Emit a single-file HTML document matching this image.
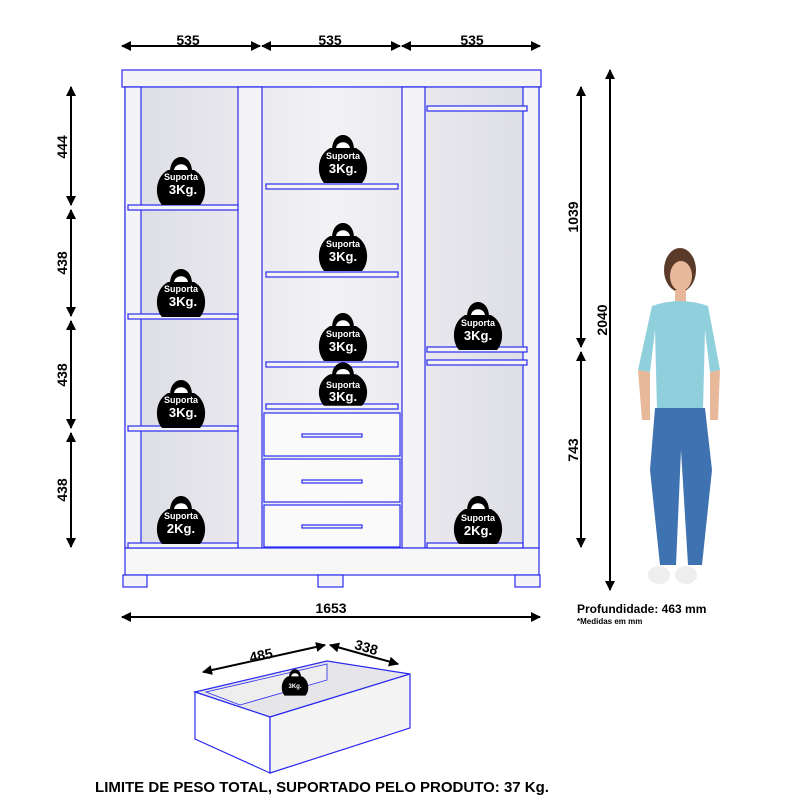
<!DOCTYPE html>
<html><head><meta charset="utf-8"><style>body{margin:0;background:#fff}svg{display:block}text{font-family:"Liberation Sans",sans-serif;font-weight:bold}</style></head><body>
<svg width="800" height="800" viewBox="0 0 800 800" xmlns="http://www.w3.org/2000/svg">
<defs>
<marker id="a" viewBox="0 0 10 10" refX="9" refY="5" markerWidth="5" markerHeight="5" orient="auto-start-reverse"><path d="M0,0L10,5L0,10z" fill="#000"/></marker>
<linearGradient id="g" x1="0" x2="1"><stop offset="0" stop-color="#dcdce4"/><stop offset="0.5" stop-color="#f2f2f5"/><stop offset="1" stop-color="#dcdce4"/></linearGradient>
<g id="w"><path d="M-11,-10 C-11,-30 11,-30 11,-10z" fill="#000"/><path d="M-7,-11 C-7,-20 7,-20 7,-11z" fill="#fff"/><path d="M-13,-12 L13,-12 C26,-5 27,14 19,23 L-19,23 C-27,14 -26,-5 -13,-12z" fill="#000"/></g>
</defs>
<g stroke="#000" stroke-width="2" marker-start="url(#a)" marker-end="url(#a)">
<line x1="122" y1="46" x2="260" y2="46"/><line x1="262" y1="46" x2="400" y2="46"/><line x1="402" y1="46" x2="540" y2="46"/>
<line x1="71" y1="87" x2="71" y2="205"/><line x1="71" y1="210" x2="71" y2="316"/><line x1="71" y1="321" x2="71" y2="428"/><line x1="71" y1="433" x2="71" y2="547"/>
<line x1="291" y1="106" x2="291" y2="185"/><line x1="291" y1="189" x2="291" y2="273"/><line x1="291" y1="277" x2="291" y2="362"/><line x1="291" y1="366" x2="291" y2="404"/>
<line x1="581" y1="87" x2="581" y2="347"/><line x1="581" y1="352" x2="581" y2="547"/><line x1="610" y1="70" x2="610" y2="590"/>
<line x1="122" y1="617" x2="540" y2="617"/>
<line x1="203" y1="672" x2="325" y2="645"/><line x1="330" y1="645" x2="398" y2="664"/>
</g>
<g font-size="14" text-anchor="middle"><text x="188" y="45">535</text><text x="330" y="45">535</text><text x="472" y="45">535</text><text x="331" y="613">1653</text></g>
<g font-size="14" text-anchor="middle">
<text transform="translate(67,147) rotate(-90)">444</text><text transform="translate(67,263) rotate(-90)">438</text><text transform="translate(67,375) rotate(-90)">438</text><text transform="translate(67,490) rotate(-90)">438</text>
<text transform="translate(290,146) rotate(-90)">355</text><text transform="translate(290,231) rotate(-90)">355</text><text transform="translate(290,320) rotate(-90)">355</text><text transform="translate(290,385) rotate(-90)">165</text>
<text transform="translate(578,217) rotate(-90)">1039</text><text transform="translate(578,450) rotate(-90)">743</text><text transform="translate(607,320) rotate(-90)">2040</text>
<text transform="translate(262,660) rotate(-12)">485</text><text transform="translate(365,652) rotate(16)">338</text>
</g>
<text x="577" y="613" font-size="12">Profundidade: 463 mm</text>
<text x="577" y="624" font-size="8">*Medidas em mm</text>
<text x="322" y="792" font-size="15" text-anchor="middle">LIMITE DE PESO TOTAL, SUPORTADO PELO PRODUTO: 37 Kg.</text>
<g stroke="#2a2af0" stroke-width="1.2" fill="#f4f4f6">
<rect x="122" y="70" width="419" height="17"/>
<rect x="125" y="87" width="414" height="461" fill="url(#g)"/>
<rect x="125" y="87" width="16" height="461"/><rect x="238" y="87" width="24" height="461"/><rect x="402" y="87" width="23" height="461"/><rect x="523" y="87" width="16" height="461"/>
<rect x="125" y="548" width="414" height="27" fill="#f7f7f7"/>
<rect x="123" y="575" width="24" height="12"/><rect x="318" y="575" width="25" height="12"/><rect x="515" y="575" width="25" height="12"/>
<rect x="128" y="205" width="110" height="5"/><rect x="128" y="314" width="110" height="5"/><rect x="128" y="426" width="110" height="5"/>
<rect x="266" y="184" width="132" height="5"/><rect x="266" y="272" width="132" height="5"/><rect x="266" y="362" width="132" height="5"/><rect x="266" y="404" width="132" height="5"/>
<rect x="427" y="106" width="100" height="5"/><rect x="427" y="347" width="100" height="5"/><rect x="427" y="360" width="100" height="5"/>
<rect x="264" y="413" width="136" height="43" fill="#fafafa"/><rect x="264" y="459" width="136" height="43" fill="#fafafa"/><rect x="264" y="505" width="136" height="42" fill="#fafafa"/>
<rect x="302" y="434" width="60" height="3"/><rect x="302" y="480" width="60" height="3"/><rect x="302" y="525" width="60" height="3"/>
<rect x="128" y="543" width="110" height="5"/><rect x="427" y="543" width="96" height="5"/>
</g>
<g stroke="#2a2af0" stroke-width="1.2">
<polygon points="195,692 327,661 410,674 270,717" fill="#e6e6ea"/>
<polygon points="195,692 270,717 270,773 195,739" fill="#fff"/>
<polygon points="270,717 410,674 410,728 270,773" fill="#f4f4f4"/>
<polygon points="206,692 327,664 327,680 240,705" fill="#eee" stroke-width="0.8"/>
</g>
<use href="#w" transform="translate(181,182)"/><use href="#w" transform="translate(181,294)"/><use href="#w" transform="translate(181,405)"/><use href="#w" transform="translate(181,521)"/>
<use href="#w" transform="translate(343,160)"/><use href="#w" transform="translate(343,248)"/><use href="#w" transform="translate(343,338)"/><use href="#w" transform="translate(343,385) scale(1,0.9)"/>
<use href="#w" transform="translate(478,327)"/><use href="#w" transform="translate(478,521)"/><use href="#w" transform="translate(295,683) scale(0.55)"/>
<g fill="#fff" text-anchor="middle">
<g font-size="9"><text x="181" y="180">Suporta</text><text x="181" y="292">Suporta</text><text x="181" y="403">Suporta</text><text x="181" y="519">Suporta</text><text x="343" y="159">Suporta</text><text x="343" y="247">Suporta</text><text x="343" y="337">Suporta</text><text x="343" y="388">Suporta</text><text x="478" y="326">Suporta</text><text x="478" y="521">Suporta</text></g>
<g font-size="13"><text x="183" y="194">3Kg.</text><text x="183" y="306">3Kg.</text><text x="183" y="417">3Kg.</text><text x="181" y="533">2Kg.</text><text x="343" y="173">3Kg.</text><text x="343" y="261">3Kg.</text><text x="343" y="351">3Kg.</text><text x="343" y="401">3Kg.</text><text x="478" y="340">3Kg.</text><text x="478" y="535">2Kg.</text></g>
<text x="295" y="688" font-size="6">3Kg.</text></g>
<g>
<ellipse cx="680" cy="270" rx="16" ry="22" fill="#5a3a28"/>
<ellipse cx="681" cy="276" rx="11" ry="15" fill="#e8b89a"/>
<rect x="675" y="290" width="11" height="12" fill="#e8b89a"/>
<path d="M652,306 Q680,296 708,306 L720,370 L710,372 L705,330 L703,410 L657,410 L655,330 L650,372 L638,370z" fill="#8fd0dc"/>
<path d="M638,370 L650,372 L650,420 L642,420z M710,372 L720,370 L718,420 L710,420z" fill="#e8b89a"/>
<path d="M655,408 L705,408 L712,470 L702,565 L688,565 L681,450 L676,565 L660,565 L650,470z" fill="#3f72b0"/>
<ellipse cx="659" cy="575" rx="11" ry="9" fill="#eee"/><ellipse cx="686" cy="575" rx="11" ry="9" fill="#eee"/>
</g>
</svg>
</body></html>
